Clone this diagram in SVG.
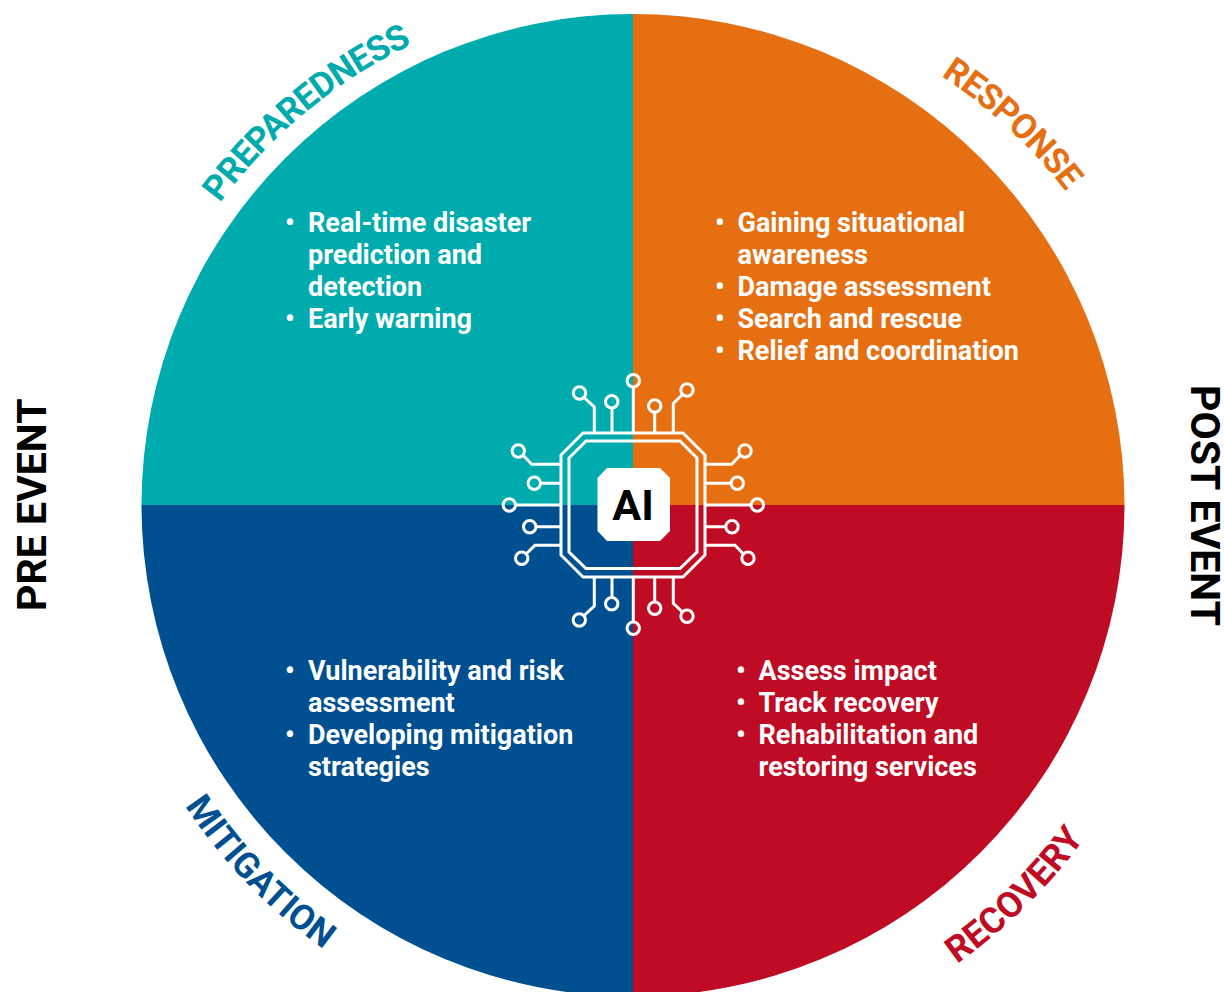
<svg xmlns="http://www.w3.org/2000/svg" width="1224" height="992" viewBox="0 0 1224 992">
<style>
text{font-family:Roboto,"Liberation Sans",sans-serif;font-weight:700}
.b{font-size:27px;fill:#fff}
.s{font-size:41px;fill:#000}
.c{font-size:35px;letter-spacing:-.8px}
.w{fill:none;stroke:#fff;stroke-width:3}
</style>
<defs>
<path id="pPrep" d="M220,203 A510,510 0 0 1 633,-5"/>
<path id="pResp" d="M941,76 A500,500 0 0 1 1066,192 L1110,250"/>
<path id="pMit" d="M185,806 A545,545 0 0 0 633,1050"/>
<path id="pRec" d="M957,964 A560,560 0 0 0 1193,505"/>
</defs>
<rect width="1224" height="992" fill="#fff"/>
<g id="quadrants">
<path id="q-preparedness" d="M633,505 V14 A491.5,491.5 0 0 0 141.5,505 Z" fill="#00ABAD"/>
<path id="q-response" d="M633,505 V14 A491.5,491.5 0 0 1 1124.5,505 Z" fill="#E66F12"/>
<path id="q-mitigation" d="M633,505 H141.5 A491.5,491.5 0 0 0 633,996.5 Z" fill="#004F91"/>
<path id="q-recovery" d="M633,505 H1124.5 A491.5,491.5 0 0 1 633,996.5 Z" fill="#BF0B23"/>
</g>
<g id="label-preparedness"><text class="c" fill="#00ABAD"><textPath href="#pPrep">PREPAREDNESS</textPath></text></g>
<g id="label-response"><text class="c" fill="#E66F12"><textPath href="#pResp">RESPONSE</textPath></text></g>
<g id="label-mitigation"><text style="font-size:35.4px" fill="#004F91"><textPath href="#pMit">MITIGATION</textPath></text></g>
<g id="label-recovery"><text style="font-size:36px" fill="#BF0B23"><textPath href="#pRec">RECOVERY</textPath></text></g>
<g id="side-pre"><text class="s" transform="translate(45.5,611) rotate(-90)">PRE EVENT</text></g>
<g id="side-post"><text class="s" transform="translate(1191,385) rotate(90)">POST EVENT</text></g>
<g id="list-preparedness">
<text class="b" x="285" y="231.7">•</text><text class="b" x="308" y="231.7">Real-time disaster</text>
<text class="b" x="308" y="263.7">prediction and</text>
<text class="b" x="308" y="295.7">detection</text>
<text class="b" x="285" y="327.7">•</text><text class="b" x="308" y="327.7">Early warning</text>
</g>
<g id="list-response">
<text class="b" x="715" y="231.7">•</text><text class="b" x="737.5" y="231.7">Gaining situational</text>
<text class="b" x="737.5" y="263.7">awareness</text>
<text class="b" x="715" y="295.7">•</text><text class="b" x="737.5" y="295.7">Damage assessment</text>
<text class="b" x="715" y="327.7">•</text><text class="b" x="737.5" y="327.7">Search and rescue</text>
<text class="b" x="715" y="359.7">•</text><text class="b" x="737.5" y="359.7">Relief and coordination</text>
</g>
<g id="list-mitigation">
<text class="b" x="285" y="679.7">•</text><text class="b" x="308" y="679.7">Vulnerability and risk</text>
<text class="b" x="308" y="711.7">assessment</text>
<text class="b" x="285" y="743.7">•</text><text class="b" x="308" y="743.7">Developing mitigation</text>
<text class="b" x="308" y="775.7">strategies</text>
</g>
<g id="list-recovery">
<text class="b" x="736" y="679.7">•</text><text class="b" x="758.5" y="679.7">Assess impact</text>
<text class="b" x="736" y="711.7">•</text><text class="b" x="758.5" y="711.7">Track recovery</text>
<text class="b" x="736" y="743.7">•</text><text class="b" x="758.5" y="743.7">Rehabilitation and</text>
<text class="b" x="758.5" y="775.7">restoring services</text>
</g>
<g id="ai-chip">
<path class="w" d="M583,433 H683 L705,455 V555 L683,577 H583 L561,555 V455 Z" stroke-linejoin="round"/>
<path class="w" d="M586,441 H680 L697,458 V552 L680,568.5 H586 L569,552 V458 Z"/>
<path d="M607,468 H660 L670,478 V531 L660,541 H607 L597.5,531 V478 Z" fill="#fff"/>
<text x="633" y="520" text-anchor="middle" font-size="43" fill="#000">AI</text>
</g>
<g id="connectors">
<path class="w" d="M594.3,433 V407 L584,397.5M612,433 V408M633.3,433 V387M654.7,433 V412M673.3,433 V403.3 L682.5,394.5"/>
<path class="w" d="M705,464.3 H731.7 L740.5,455M705,483.3 H731M705,505 H751M705,526.7 H726M705,545.3 H735 L743.5,554"/>
<path class="w" d="M561,464.3 H531.7 L522.8,455M561,483.3 H540.5M561,505 H515.5M561,526.7 H536M561,545.3 H535 L526,554"/>
<path class="w" d="M594.3,577 V606 L584,615.5M612,577 V597.5M633.3,577 V622M654.7,577 V602M673.3,577 V603.3 L682.5,612"/>
<g>
<circle class="w" cx="579.5" cy="393" r="6.2"/><circle class="w" cx="611.7" cy="401.7" r="6.2"/><circle class="w" cx="633.3" cy="380.7" r="6.2"/><circle class="w" cx="654.7" cy="406" r="6.2"/><circle class="w" cx="687" cy="390" r="6.2"/>
<circle class="w" cx="745" cy="451" r="6.2"/><circle class="w" cx="737.3" cy="483.3" r="6.2"/><circle class="w" cx="757.3" cy="505" r="6.2"/><circle class="w" cx="732" cy="526.7" r="6.2"/><circle class="w" cx="748" cy="558.3" r="6.2"/>
<circle class="w" cx="518.3" cy="451" r="6.2"/><circle class="w" cx="534.3" cy="483.3" r="6.2"/><circle class="w" cx="509.3" cy="505" r="6.2"/><circle class="w" cx="529.7" cy="526.7" r="6.2"/><circle class="w" cx="521.7" cy="558.3" r="6.2"/>
<circle class="w" cx="579.3" cy="620" r="6.2"/><circle class="w" cx="611.7" cy="603.7" r="6.2"/><circle class="w" cx="633.3" cy="628.3" r="6.2"/><circle class="w" cx="654.7" cy="608.3" r="6.2"/><circle class="w" cx="687" cy="616.3" r="6.2"/>
</g>
</g>
</svg>
